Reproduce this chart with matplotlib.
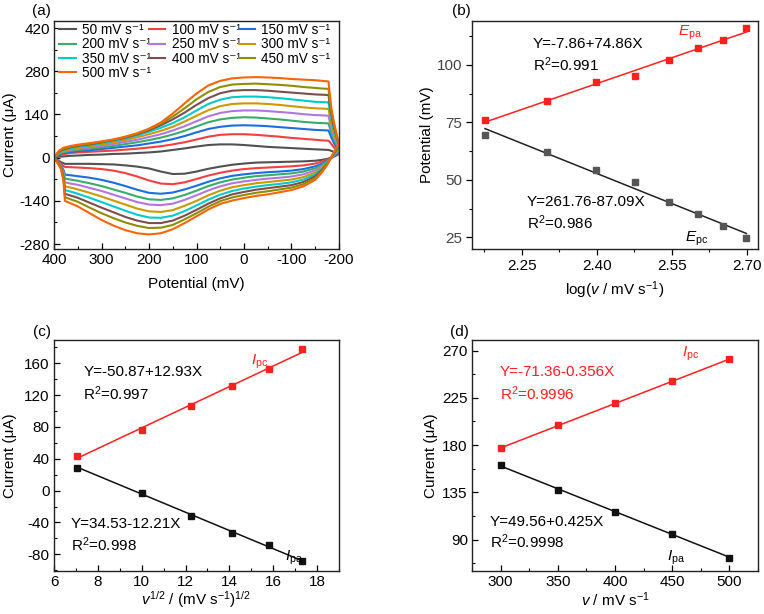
import numpy as np
import matplotlib
matplotlib.use("Agg")
import matplotlib.pyplot as plt
from matplotlib.ticker import MultipleLocator

plt.rcParams["font.family"] = ["Liberation Sans", "DejaVu Sans"]
plt.rcParams["mathtext.fontset"] = "custom"
plt.rcParams["mathtext.rm"] = "Liberation Sans"
plt.rcParams["mathtext.it"] = "Liberation Sans:italic"
plt.rcParams["axes.unicode_minus"] = False
plt.rcParams["font.size"] = 11

# ---- (a) CV curves at different scan rates ----
scanRates = [50, 100, 150, 200, 250, 300, 350, 400, 450, 500]
cvColors = ["#515151", "#F14040", "#1A6FDF", "#37AD6B", "#B177DE",
            "#CC9900", "#00CBCC", "#7D4E4E", "#8E8E00", "#FB6501"]
# forward branch (potential in mV)
eLower = [400, 392, 385, 380, 377, 365, 350, 325, 300, 275, 250, 225, 200, 175, 150, 125,
          100, 75, 50, 25, 0, -25, -50, -75, -100, -125, -150, -165, -175, -185, -193, -200]
# return branch
eUpper = [-196, -190, -184, -180, -178, -165, -150, -125, -100, -75, -50, -25, 0, 25, 50, 75,
          100, 125, 150, 175, 200, 225, 250, 275, 300, 325, 350, 365, 380, 390, 400]

iLower = [
    [0, -8, -15, -18, -20, -20, -20, -20, -21, -22, -25, -29, -35, -45, -53, -52,
     -45, -36, -29, -23, -19, -16, -15, -14, -13, -12, -10, -7, -4, 0, 6, 12],
    [0, -10, -20, -27, -30, -31, -32, -34, -37, -42, -50, -61, -74, -84, -86, -80,
     -69, -58, -49, -42, -37, -34, -32, -30, -28, -25, -19, -12, -6, 2, 8, 14],
    [0, -12, -24, -40, -55, -57, -60, -65, -72, -81, -92, -104, -114, -117, -113, -103,
     -91, -78, -67, -59, -54, -50, -47, -45, -42, -37, -28, -19, -10, 1, 10, 18],
    [0, -13, -26, -45, -68, -71, -75, -83, -92, -103, -114, -126, -135, -137, -132, -121,
     -107, -92, -80, -71, -65, -60, -57, -54, -51, -45, -34, -23, -12, 1, 12, 22],
    [0, -14, -28, -50, -80, -84, -88, -98, -108, -120, -132, -144, -152, -154, -149, -137,
     -122, -106, -93, -83, -77, -72, -68, -65, -61, -54, -41, -27, -14, 1, 14, 26],
    [0, -15, -30, -55, -93, -97, -103, -114, -126, -139, -152, -165, -174, -176, -170, -156,
     -140, -122, -107, -96, -89, -83, -79, -75, -71, -63, -48, -31, -16, 2, 16, 30],
    [0, -16, -32, -60, -105, -110, -117, -130, -144, -158, -172, -185, -194, -195, -188, -173,
     -155, -136, -120, -108, -100, -94, -89, -85, -80, -71, -54, -35, -18, 3, 19, 34],
    [0, -17, -34, -65, -117, -123, -130, -146, -162, -177, -192, -204, -212, -212, -204, -188,
     -169, -149, -132, -119, -111, -104, -99, -94, -89, -79, -60, -39, -20, 4, 22, 38],
    [0, -18, -36, -70, -128, -135, -143, -162, -180, -196, -210, -221, -228, -227, -218, -200,
     -180, -159, -141, -129, -121, -114, -109, -103, -97, -86, -66, -42, -22, 5, 25, 41],
    [0, -19, -38, -75, -140, -148, -158, -180, -202, -220, -235, -245, -249, -245, -232, -212,
     -190, -168, -150, -139, -131, -124, -119, -112, -105, -93, -72, -46, -24, 6, 28, 44],
]
iUpper = [
    [14, 18, 22, 24, 25, 26, 27, 29, 31, 33, 35, 38, 41, 43, 43, 41,
     36, 30, 25, 20, 17, 15, 13, 12, 10, 9, 7, 6, 4, 3, 0],
    [22, 32, 44, 52, 55, 56, 58, 61, 64, 68, 71, 74, 76, 76, 74, 68,
     59, 50, 43, 37, 33, 29, 26, 23, 21, 19, 17, 15, 11, 7, 0],
    [30, 45, 65, 80, 88, 89, 90, 93, 96, 99, 102, 104, 105, 104, 100, 93,
     82, 70, 60, 52, 46, 40, 36, 32, 28, 24, 21, 19, 15, 10, 0],
    [38, 55, 80, 100, 111, 112, 113, 116, 120, 124, 127, 130, 131, 129, 124, 115,
     101, 87, 75, 65, 57, 50, 44, 38, 33, 29, 25, 22, 18, 12, 0],
    [45, 65, 95, 120, 136, 137, 138, 141, 145, 148, 151, 153, 153, 151, 145, 134,
     118, 102, 88, 76, 67, 58, 51, 44, 38, 33, 28, 25, 20, 14, 0],
    [52, 75, 110, 140, 158, 159, 160, 163, 167, 171, 174, 176, 176, 174, 167, 154,
     136, 117, 100, 87, 76, 66, 57, 49, 43, 37, 31, 28, 22, 15, 0],
    [58, 85, 125, 158, 179, 180, 181, 185, 189, 193, 196, 198, 198, 196, 188, 174,
     153, 131, 112, 97, 84, 72, 62, 54, 47, 40, 35, 31, 25, 17, 0],
    [62, 95, 140, 178, 203, 204, 205, 208, 211, 214, 217, 219, 219, 217, 209, 193,
     171, 146, 124, 105, 89, 76, 65, 57, 50, 43, 38, 34, 27, 19, 0],
    [66, 102, 150, 195, 223, 224, 226, 229, 233, 236, 238, 240, 239, 237, 229, 213,
     189, 160, 133, 110, 92, 78, 67, 58, 51, 45, 40, 36, 29, 20, 0],
    [70, 110, 160, 215, 247, 249, 251, 253, 255, 258, 260, 261, 260, 257, 249, 234,
     208, 176, 143, 114, 94, 79, 68, 59, 53, 47, 42, 38, 32, 22, 0],
]

# ---- (b) peak potential vs log(v) ----
logV = [2.176, 2.301, 2.398, 2.477, 2.544, 2.602, 2.653, 2.699]
ePa = [76.2, 84.1, 92.3, 95.1, 102.0, 107.2, 110.7, 115.8]
ePc = [69.6, 62.0, 54.5, 49.0, 40.6, 35.3, 29.8, 24.7]

# ---- (c) peak current vs v^1/2 ----
sqrtV = [7.07, 10.0, 12.25, 14.14, 15.81, 17.32]
iPcC = [44.1, 76.5, 105.9, 131.0, 152.9, 177.3]
iPaC = [29.0, -2.5, -32.0, -53.0, -68.5, -88.7]

# ---- (d) peak current vs v ----
scanV = [300, 350, 400, 450, 500]
iPcD = [176.8, 198.8, 220.1, 240.7, 261.7]
iPaD = [160.6, 137.4, 116.7, 95.7, 72.8]


def StyleAxis(ax, xMajor, xMinor, yMajor, yMinor, tickDir="in"):
    ax.xaxis.set_major_locator(MultipleLocator(xMajor))
    ax.xaxis.set_minor_locator(MultipleLocator(xMinor))
    ax.yaxis.set_major_locator(MultipleLocator(yMajor))
    ax.yaxis.set_minor_locator(MultipleLocator(yMinor))
    ax.tick_params(which="major", direction=tickDir, length=4, width=0.9, labelsize=11, pad=3)
    ax.tick_params(which="minor", direction=tickDir, length=2.5, width=0.8)
    for s in ax.spines.values():
        s.set_linewidth(1.0)
        s.set_color("#222222")


def FitLine(ax, x, y, color, markerColor=None):
    k, b = np.polyfit(x, y, 1)
    xs = np.array([min(x), max(x)])
    ax.plot(xs, k * xs + b, color=color, linewidth=1.1, zorder=2)
    ax.plot(x, y, "s", color=markerColor or color, markersize=4, zorder=3)


fig = plt.figure(figsize=(7.64, 6.14), dpi=100)
axA = fig.add_axes([0.0707, 0.5945, 0.373, 0.3713])
axB = fig.add_axes([0.6178, 0.5945, 0.3743, 0.3713])
axC = fig.add_axes([0.0707, 0.070, 0.373, 0.376])
axD = fig.add_axes([0.6178, 0.070, 0.3743, 0.376])

# (a)
handles = []
for rate, col, lo, up in zip(scanRates, cvColors, iLower, iUpper):
    h, = axA.plot(eLower + eUpper, lo + up, color=col, linewidth=1.5,
                  label=f"{rate} mV s\u207b\u00b9")
    handles.append(h)
axA.set_xlim(400, -200)
axA.set_ylim(-296, 443)
StyleAxis(axA, 100, 50, 140, 70)
axA.set_xlabel("Potential (mV)", fontsize=11, labelpad=7)
axA.set_ylabel("Current (μA)", fontsize=11, labelpad=2)
order = [0, 3, 6, 9, 1, 4, 7, 2, 5, 8]
axA.legend([handles[i] for i in order], [handles[i].get_label() for i in order],
           ncol=3, loc="upper left", bbox_to_anchor=(0.0, 1.015), frameon=False,
           fontsize=9.8, handlelength=1.2, handletextpad=0.45, columnspacing=-0.15,
           labelspacing=0.03, borderaxespad=0.2, borderpad=0.2)
axA.text(-0.077, 1.045, "(a)", transform=axA.transAxes, fontsize=11, va="center")

# (b)
FitLine(axB, logV, ePa, "#FF2020")
FitLine(axB, logV, ePc, "#222222", "#555555")
axB.set_xlim(2.15, 2.722)
axB.set_ylim(20, 119)
StyleAxis(axB, 0.15, 0.075, 25, 12.5, tickDir="out")
axB.set_xticks([2.25, 2.40, 2.55, 2.70])
axB.set_xticklabels(["2.25", "2.40", "2.55", "2.70"])
axB.tick_params(axis="y", labelcolor="#444444")
axB.set_xlabel("log($v$ / mV s$^{-1}$)", fontsize=11, labelpad=5)
axB.set_ylabel("Potential (mV)", fontsize=11, labelpad=2)
axB.text(0.213, 0.899, "Y=-7.86+74.86X", transform=axB.transAxes, fontsize=11, va="center")
axB.text(0.213, 0.807, "R$^{2}$=0.991", transform=axB.transAxes, fontsize=11, va="center")
axB.text(0.72, 0.947, "$E_{\\mathrm{pa}}$", transform=axB.transAxes, fontsize=11, va="center", color="#FF2020")
axB.text(0.192, 0.206, "Y=261.76-87.09X", transform=axB.transAxes, fontsize=11, va="center")
axB.text(0.192, 0.114, "R$^{2}$=0.986", transform=axB.transAxes, fontsize=11, va="center")
axB.text(0.745, 0.044, "$E_{\\mathrm{pc}}$", transform=axB.transAxes, fontsize=11, va="center")
axB.text(-0.071, 1.045, "(b)", transform=axB.transAxes, fontsize=11, va="center")

# (c)
FitLine(axC, sqrtV, iPcC, "#FF2020")
FitLine(axC, sqrtV, iPaC, "#111111")
axC.set_xlim(6, 19)
axC.set_ylim(-101, 189)
StyleAxis(axC, 2, 1, 40, 20)
axC.set_xlabel("$v^{1/2}$ / (mV s$^{-1}$)$^{1/2}$", fontsize=11, labelpad=0)
axC.set_ylabel("Current (μA)", fontsize=11, labelpad=5)
axC.text(0.103, 0.863, "Y=-50.87+12.93X", transform=axC.transAxes, fontsize=11, va="center")
axC.text(0.103, 0.769, "R$^{2}$=0.997", transform=axC.transAxes, fontsize=11, va="center")
axC.text(0.69, 0.906, "$I_{\\mathrm{pc}}$", transform=axC.transAxes, fontsize=11, va="center", color="#FF2020")
axC.text(0.058, 0.203, "Y=34.53-12.21X", transform=axC.transAxes, fontsize=11, va="center")
axC.text(0.058, 0.113, "R$^{2}$=0.998", transform=axC.transAxes, fontsize=11, va="center")
axC.text(0.812, 0.055, "$I_{\\mathrm{pa}}$", transform=axC.transAxes, fontsize=11, va="center")
axC.text(-0.074, 1.036, "(c)", transform=axC.transAxes, fontsize=11, va="center")

# (d)
FitLine(axD, scanV, iPcD, "#FF2020")
FitLine(axD, scanV, iPaD, "#111111")
axD.set_xlim(275, 525)
axD.set_ylim(60, 280)
StyleAxis(axD, 50, 25, 45, 22.5)
axD.set_xlabel("$v$ / mV s$^{-1}$", fontsize=11, labelpad=1)
axD.set_ylabel("Current (μA)", fontsize=11, labelpad=3)
axD.text(0.098, 0.863, "Y=-71.36-0.356X", transform=axD.transAxes, fontsize=11, va="center", color="#FF2020")
axD.text(0.098, 0.769, "R$^{2}$=0.9996", transform=axD.transAxes, fontsize=11, va="center", color="#FF2020")
axD.text(0.733, 0.942, "$I_{\\mathrm{pc}}$", transform=axD.transAxes, fontsize=11, va="center", color="#FF2020")
axD.text(0.063, 0.213, "Y=49.56+0.425X", transform=axD.transAxes, fontsize=11, va="center")
axD.text(0.063, 0.127, "R$^{2}$=0.9998", transform=axD.transAxes, fontsize=11, va="center")
axD.text(0.683, 0.055, "$I_{\\mathrm{pa}}$", transform=axD.transAxes, fontsize=11, va="center")
axD.text(-0.077, 1.036, "(d)", transform=axD.transAxes, fontsize=11, va="center")

fig.savefig("out.png", dpi=100)
